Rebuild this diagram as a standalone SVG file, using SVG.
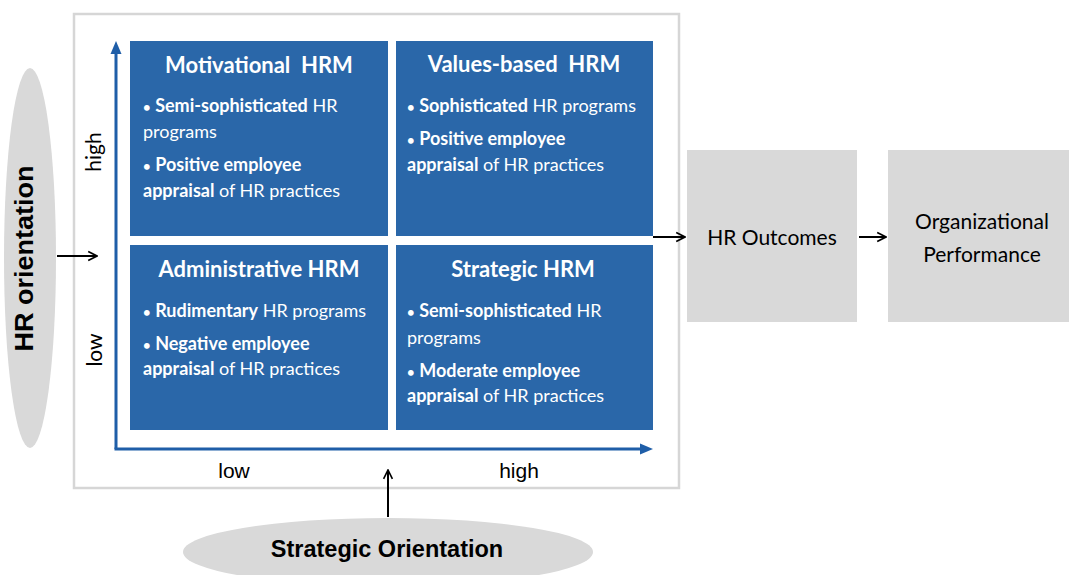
<svg xmlns="http://www.w3.org/2000/svg" width="1069" height="575" viewBox="0 0 1069 575">
<style>
.q{fill:#2a67a9}
.qt{font-family:Lato,"Open Sans",sans-serif;font-weight:bold;font-size:22px;fill:#fff;text-anchor:middle}
.qb{font-family:Lato,"Open Sans",sans-serif;font-size:18px;fill:#fff}
.b{font-weight:bold}
.d{font-size:13px;font-weight:bold}
.grey{fill:#d9d9d9}
.lab{font-family:Lato,"Open Sans",sans-serif;font-size:21px;fill:#000}
.ax{font-family:"Liberation Sans",Arial,sans-serif;font-size:21px;fill:#000;text-anchor:middle}
.bold{font-family:"Liberation Sans",Arial,sans-serif;font-weight:bold;fill:#000;text-anchor:middle}
.arr{stroke:#000;stroke-width:2;fill:none;marker-end:url(#open)}
.axis{stroke:#1f5ea8;stroke-width:3;fill:none}
</style>
<defs>
<marker id="open" viewBox="0 0 10 10" refX="9" refY="5" markerWidth="11" markerHeight="12" markerUnits="userSpaceOnUse" orient="auto">
<path d="M1,1 L9,5 L1,9" fill="none" stroke="#000" stroke-width="1.5"/>
</marker>
</defs>
<rect x="0" y="0" width="1069" height="575" fill="#fff"/>
<g id="frame">
<rect x="74" y="14" width="605" height="474" fill="#fff" stroke="#d6d6d6" stroke-width="2.5"/>
</g>
<g id="hr-orientation">
<ellipse cx="30" cy="258" rx="26" ry="190" class="grey"/>
<text class="bold" font-size="26" transform="translate(33,258.5) rotate(-90)" textLength="186" lengthAdjust="spacingAndGlyphs">HR orientation</text>
</g>
<g id="strategic-orientation">
<ellipse cx="388" cy="552" rx="205" ry="34" class="grey"/>
<text class="bold" font-size="23.5" x="387" y="557">Strategic Orientation</text>
</g>
<g id="axes">
<line class="axis" x1="116" y1="449" x2="116" y2="52"/>
<path d="M116,41 L121.5,54 L110.5,54 Z" fill="#1f5ea8"/>
<line class="axis" x1="114.5" y1="449" x2="642" y2="449"/>
<path d="M653,449 L640,443.5 L640,454.5 Z" fill="#1f5ea8"/>
<text class="lab" text-anchor="middle" transform="translate(101,152) rotate(-90)">high</text>
<text class="lab" text-anchor="middle" transform="translate(102,350) rotate(-90)">low</text>
<text class="ax" x="234" y="478">low</text>
<text class="ax" x="519" y="478">high</text>
</g>
<g id="motivational">
<rect class="q" x="130" y="41" width="258" height="195"/>
<text class="qt" x="259" y="73">Motivational&#160; HRM</text>
<text class="qb" x="143" y="112"><tspan class="d">•</tspan> <tspan class="b">Semi-sophisticated</tspan> HR</text>
<text class="qb" x="143" y="138">programs</text>
<text class="qb" x="143" y="171"><tspan class="d">•</tspan> <tspan class="b">Positive employee</tspan></text>
<text class="qb" x="143" y="197"><tspan class="b">appraisal</tspan> of HR practices</text>
</g>
<g id="values-based">
<rect class="q" x="396" y="41" width="257" height="195"/>
<text class="qt" x="524" y="72">Values-based&#160; HRM</text>
<text class="qb" x="407" y="112"><tspan class="d">•</tspan> <tspan class="b">Sophisticated</tspan> HR programs</text>
<text class="qb" x="407" y="145"><tspan class="d">•</tspan> <tspan class="b">Positive employee</tspan></text>
<text class="qb" x="407" y="171"><tspan class="b">appraisal</tspan> of HR practices</text>
</g>
<g id="administrative">
<rect class="q" x="130" y="245" width="258" height="185"/>
<text class="qt" x="259" y="277">Administrative HRM</text>
<text class="qb" x="143" y="317"><tspan class="d">•</tspan> <tspan class="b">Rudimentary</tspan> HR programs</text>
<text class="qb" x="143" y="350"><tspan class="d">•</tspan> <tspan class="b">Negative employee</tspan></text>
<text class="qb" x="143" y="375"><tspan class="b">appraisal</tspan> of HR practices</text>
</g>
<g id="strategic">
<rect class="q" x="396" y="245" width="257" height="185"/>
<text class="qt" x="523" y="277">Strategic HRM</text>
<text class="qb" x="407" y="317"><tspan class="d">•</tspan> <tspan class="b">Semi-sophisticated</tspan> HR</text>
<text class="qb" x="407" y="344">programs</text>
<text class="qb" x="407" y="377"><tspan class="d">•</tspan> <tspan class="b">Moderate employee</tspan></text>
<text class="qb" x="407" y="402"><tspan class="b">appraisal</tspan> of HR practices</text>
</g>
<g id="hr-outcomes">
<rect class="grey" x="687" y="150" width="170" height="172"/>
<text class="lab" text-anchor="middle" x="772" y="245">HR Outcomes</text>
</g>
<g id="org-performance">
<rect class="grey" x="888" y="150" width="185" height="172"/>
<text class="lab" text-anchor="middle" x="982" y="229">Organizational</text>
<text class="lab" text-anchor="middle" x="982" y="262">Performance</text>
</g>
<g id="connectors">
<line class="arr" x1="57" y1="256" x2="97" y2="256"/>
<line class="arr" x1="653" y1="237" x2="685" y2="237"/>
<line class="arr" x1="859" y1="237" x2="886" y2="237"/>
<line class="arr" x1="388" y1="517" x2="388" y2="470"/>
</g>
</svg>
